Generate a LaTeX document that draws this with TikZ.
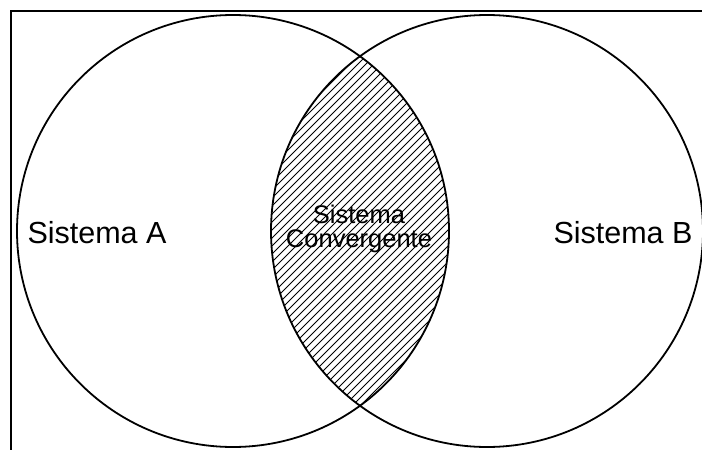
\documentclass[tikz,border=0pt]{standalone}
\usepackage{fontspec}
\setmainfont{Liberation Sans}
\usetikzlibrary{positioning}
\tikzset{
  venn set/.style={draw=black, line width=1.8pt},
  venn frame/.style={draw=black, line width=1.3pt},
  hatch line/.style={draw=black, line width=1pt},
  set label/.style={font=\fontsize{30.5}{36}\selectfont, inner sep=0pt},
  meet label/.style={font=\fontsize{25.5}{24}\selectfont, align=center, inner sep=0pt}
}

\begin{document}
\begin{tikzpicture}[x=1pt, y=-1pt]
    \useasboundingbox (0,0) rectangle (702,450);
    \clip (0,0) rectangle (702,450);
    \coordinate (centreA) at (233,231);
    \coordinate (centreB) at (487,231);
    % hatched intersection
    \begin{scope}
      \clip (centreA) circle[radius=216];
      \clip (centreB) circle[radius=216];
      \foreach \k in {-480,-472,...,720}
        \draw[hatch line] (\k,470) -- ++(480,-480);
    \end{scope}
    \draw[venn frame] (11,11) rectangle (730,480);
    \draw[venn set] (centreA) circle[radius=216];
    \draw[venn set] (centreB) circle[radius=216];
    \node[set label, anchor=base] (sisA) at (97,243) {Sistema A};
    \node[set label, anchor=base] (sisB) at (623,243) {Sistema B};
    \node[meet label] (sisC) at (359,229) {Sistema\\Convergente};
  \end{tikzpicture}
\end{document}
